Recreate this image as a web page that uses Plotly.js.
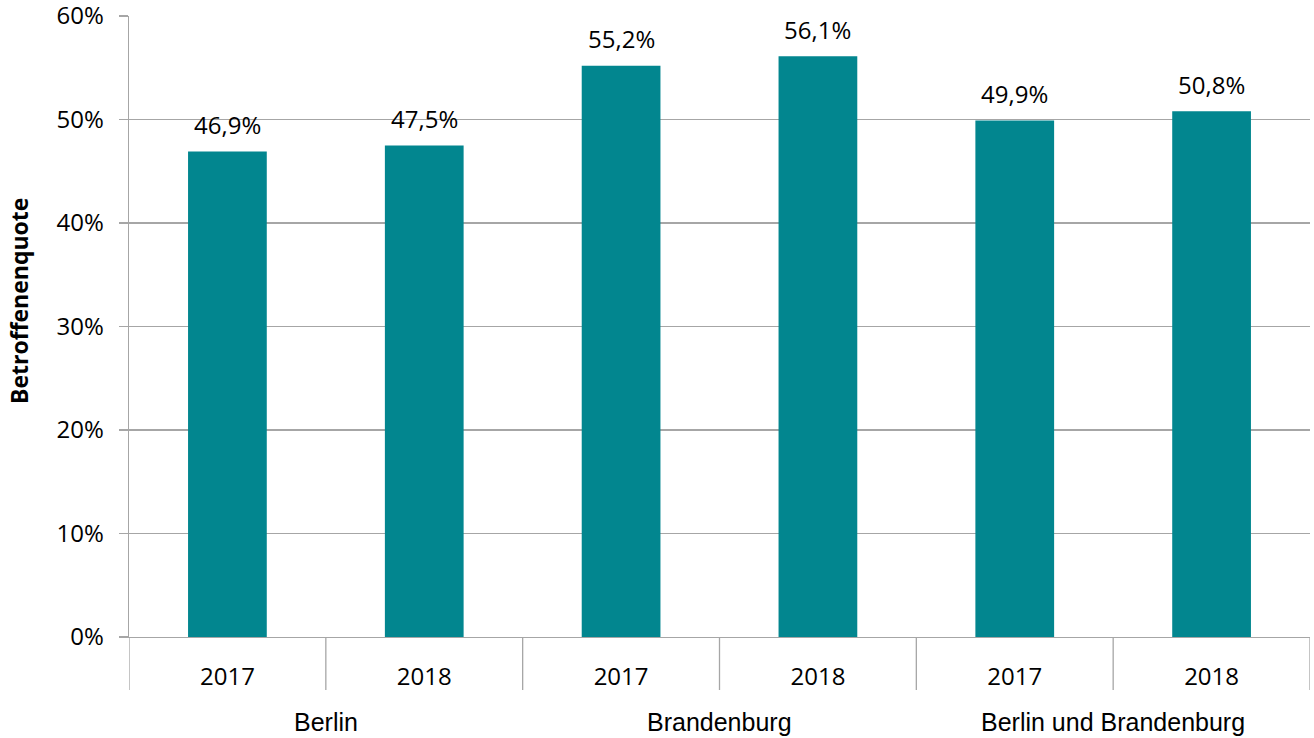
<!DOCTYPE html>
<html>
<head>
<meta charset="utf-8">
<script src="https://cdn.plot.ly/plotly-3.0.1.min.js"></script>
<style>html,body{margin:0;padding:0;background:#fff;}#chart{width:1314px;height:738px;}</style>
</head>
<body>
<div id="chart"></div>
<script>
const groups = ["Berlin", "Brandenburg", "Berlin und Brandenburg"];
const years = ["2017", "2018", "2017", "2018", "2017", "2018"];
const values = [0.469, 0.475, 0.552, 0.561, 0.499, 0.508];
const yTicks = [0, 0.1, 0.2, 0.3, 0.4, 0.5, 0.6];
const yTickText = ["0%", "10%", "20%", "30%", "40%", "50%", "60%"];
const yTitle = "Betroffenenquote";

const pos = years.map((_, i) => i);
const gridColor = "#A6A6A6";
const fmt = v => (v * 100).toFixed(1).replace(".", ",") + "%";

const trace = {
  type: "bar",
  x: pos,
  y: values,
  width: 0.4,
  marker: {color: "#02868F"},
  hoverinfo: "skip"
};

const shapes = [];
for (let i = 0; i <= years.length; i++) {
  shapes.push({type: "line", xref: "x", yref: "paper", x0: i - 0.5, x1: i - 0.5, y0: 0, y1: -53/621,
    line: {color: gridColor, width: 1.3}});
}
const annotations = groups.map((g, k) => ({
  xref: "x", yref: "paper", x: 2 * k + 0.5, y: -85/621, yanchor: "middle", xanchor: "center",
  text: g, showarrow: false, font: {family: "Liberation Sans", size: 25, color: "#000"}
}));
values.forEach((v, i) => annotations.push({
  xref: "x", yref: "y", x: pos[i], y: v, yanchor: "middle", xanchor: "center", yshift: 27,
  text: fmt(v), showarrow: false, font: {family: "Open Sans", size: 24, color: "#000"}
}));
annotations.push({
  xref: "paper", yref: "paper", x: (19 - 129) / 1181, y: (637 - 301) / 621,
  xanchor: "center", yanchor: "middle", textangle: -90, showarrow: false,
  text: "<b>" + yTitle + "</b>", font: {family: "Open Sans", size: 23, color: "#000"}
});

const layout = {
  width: 1314, height: 738,
  margin: {l: 129, r: 4, t: 16, b: 101},
  paper_bgcolor: "#fff", plot_bgcolor: "#fff",
  showlegend: false,
  xaxis: {
    range: [-0.5, years.length - 0.5],
    tickvals: pos, ticktext: years,
    ticks: "", showgrid: false, zeroline: false,
    showline: true, linecolor: gridColor, linewidth: 1.3,
    tickfont: {family: "Open Sans", size: 24, color: "#000"},
    ticklabelstandoff: 18, fixedrange: true
  },
  yaxis: {
    range: [0, 0.6],
    tickmode: "array", tickvals: yTicks, ticktext: yTickText,
    showgrid: true, gridcolor: gridColor, gridwidth: 1.3,
    zeroline: false, showline: true, linecolor: gridColor, linewidth: 1.3,
    ticks: "outside", ticklen: 9, tickcolor: gridColor, tickwidth: 1.3,
    tickfont: {family: "Open Sans", size: 24, color: "#000"},
    ticklabelstandoff: 10, ticklabeloverflow: "allow",
    fixedrange: true
  },
  shapes: shapes,
  annotations: annotations
};

Plotly.newPlot("chart", [trace], layout, {displayModeBar: false, staticPlot: true});
</script>
</body>
</html>
